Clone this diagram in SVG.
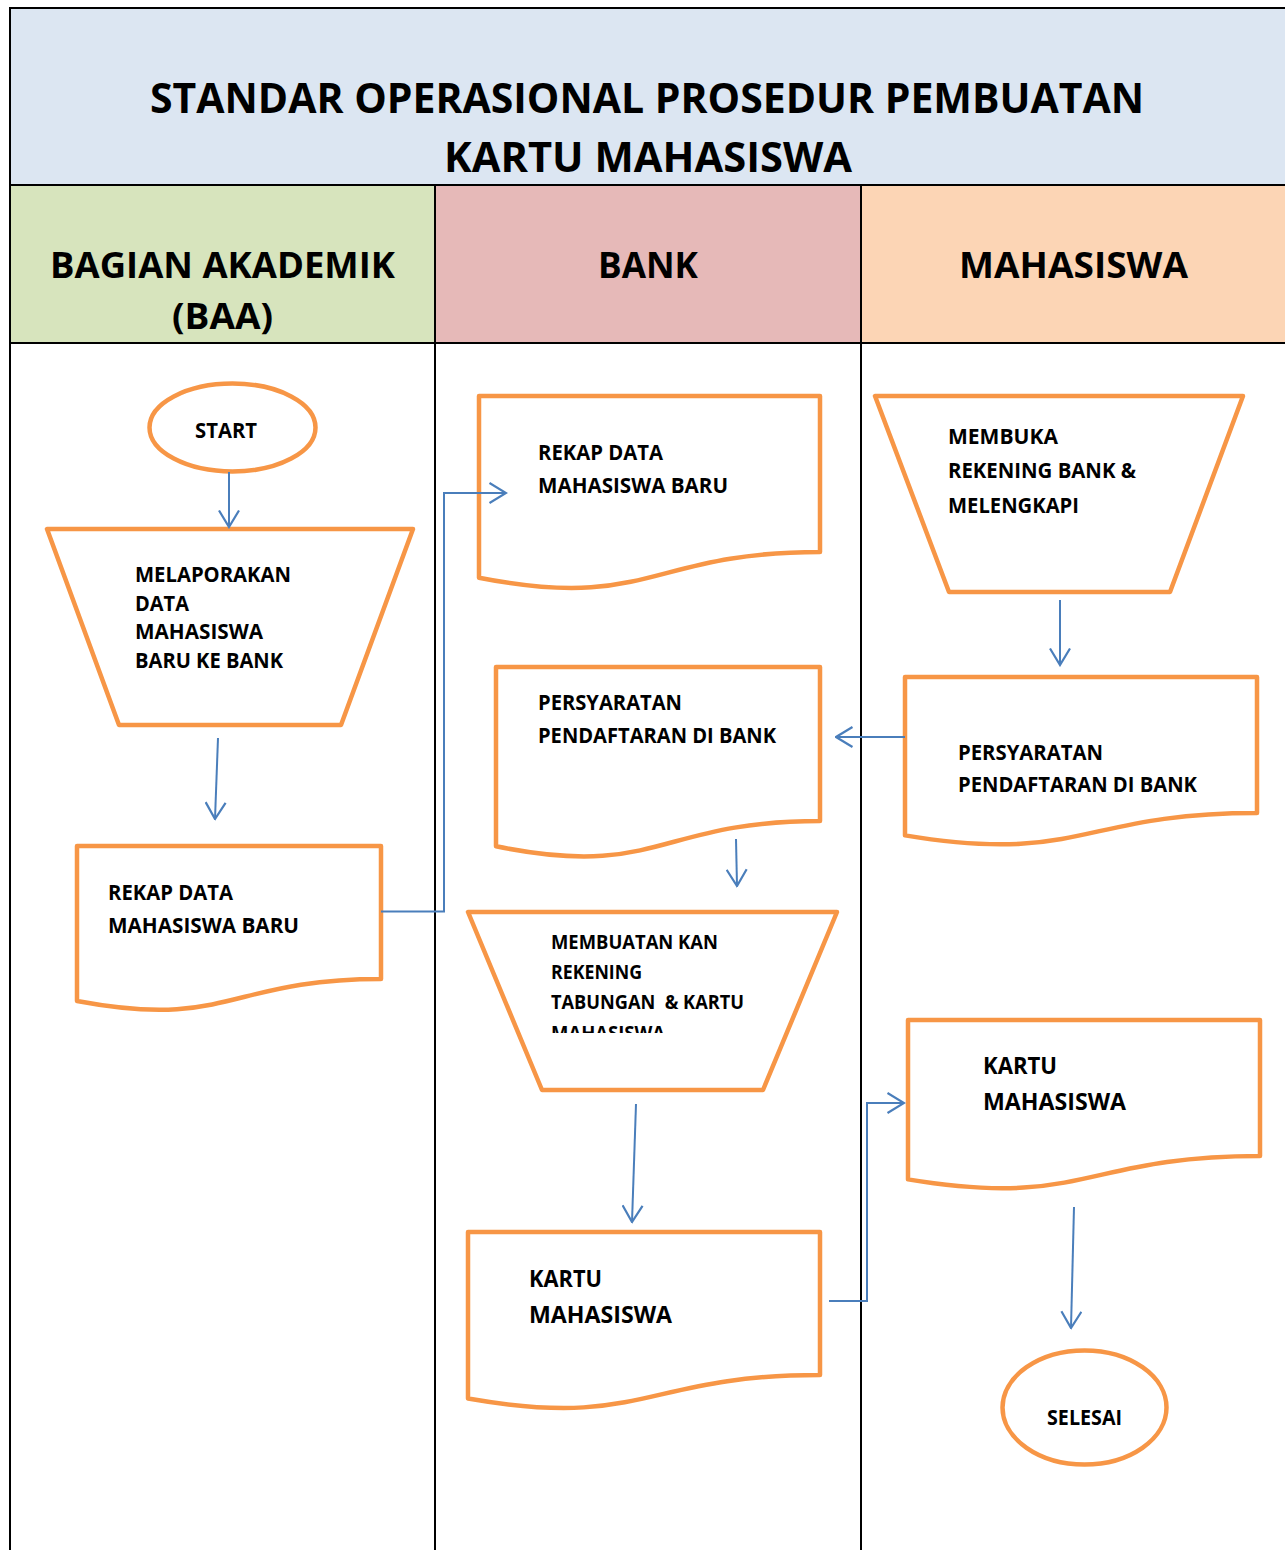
<svg xmlns="http://www.w3.org/2000/svg" width="1285" height="1550" viewBox="0 0 1285 1550">
<style>
.t{font-family:"Open Sans",Lato,"Liberation Sans",sans-serif;font-weight:bold;fill:#000;}
.sh{fill:#fff;stroke:#F79646;stroke-width:4.5;stroke-linejoin:round;}
.cn{fill:none;stroke:#4A7EBB;stroke-width:2;}
.ln{stroke:#000;stroke-width:2;fill:none;}
</style>
<defs>
<marker id="ah" viewBox="0 0 19 22" refX="17.5" refY="11" markerWidth="19" markerHeight="22" markerUnits="userSpaceOnUse" orient="auto">
<path d="M1,1 L17.5,11 L1,21" fill="none" stroke="#4A7EBB" stroke-width="2.2"/>
</marker>
<clipPath id="clipM"><rect x="540" y="1000" width="250" height="33"/></clipPath>
</defs>
<rect x="0" y="0" width="1285" height="1550" fill="#fff"/>
<g id="frame">
<rect x="10" y="8" width="1290" height="177" fill="#DCE6F2"/>
<rect x="10" y="185" width="425" height="158" fill="#D7E4BD"/>
<rect x="435" y="185" width="426" height="158" fill="#E6B9B8"/>
<rect x="861" y="185" width="430" height="158" fill="#FCD5B5"/>
<path class="ln" d="M10,1552 V8 H1290 M10,185 H1290 M10,343 H1290 M435,185 V1552 M861,185 V1552"/>
<text class="t" x="150" y="113" font-size="42" textLength="994" lengthAdjust="spacingAndGlyphs">STANDAR OPERASIONAL PROSEDUR PEMBUATAN</text>
<text class="t" x="444" y="172" font-size="42" textLength="408" lengthAdjust="spacingAndGlyphs">KARTU MAHASISWA</text>
<text class="t" x="50" y="278" font-size="36" textLength="345" lengthAdjust="spacingAndGlyphs">BAGIAN AKADEMIK</text>
<text class="t" x="172" y="329" font-size="36" textLength="101" lengthAdjust="spacingAndGlyphs">(BAA)</text>
<text class="t" x="598" y="278" font-size="36" textLength="100" lengthAdjust="spacingAndGlyphs">BANK</text>
<text class="t" x="959" y="278" font-size="36" textLength="229" lengthAdjust="spacingAndGlyphs">MAHASISWA</text>
</g>
<g id="start">
<ellipse class="sh" cx="232.5" cy="427.5" rx="83" ry="44"/>
<text class="t" x="195" y="438" font-size="21" textLength="62" lengthAdjust="spacingAndGlyphs">START</text>
</g>
<g id="melaporkan">
<path class="sh" d="M47,529 H413 L341,725 H119 Z"/>
<text class="t" x="135" y="582" font-size="20.5" textLength="156" lengthAdjust="spacingAndGlyphs">MELAPORAKAN</text>
<text class="t" x="135" y="611" font-size="20.5" textLength="54" lengthAdjust="spacingAndGlyphs">DATA</text>
<text class="t" x="135" y="639" font-size="20.5" textLength="128" lengthAdjust="spacingAndGlyphs">MAHASISWA</text>
<text class="t" x="135" y="668" font-size="20.5" textLength="148" lengthAdjust="spacingAndGlyphs">BARU KE BANK</text>
</g>
<g id="rekap-baa">
<path class="sh" d="M77,846 H381 V979 C229,979 229,1029.6 77,1001 Z"/>
<text class="t" x="108" y="900" font-size="21" textLength="125" lengthAdjust="spacingAndGlyphs">REKAP DATA</text>
<text class="t" x="108" y="933" font-size="21" textLength="191" lengthAdjust="spacingAndGlyphs">MAHASISWA BARU</text>
</g>
<g id="rekap-bank">
<path class="sh" d="M479,396 H820 V552 C649.5,552 649.5,611.3 479,577.7 Z"/>
<text class="t" x="538" y="460" font-size="21" textLength="125" lengthAdjust="spacingAndGlyphs">REKAP DATA</text>
<text class="t" x="538" y="493" font-size="21" textLength="190" lengthAdjust="spacingAndGlyphs">MAHASISWA BARU</text>
</g>
<g id="persyaratan-bank">
<path class="sh" d="M496,667 H820 V821 C658,821 658,879.5 496,846.3 Z"/>
<text class="t" x="538" y="710" font-size="21" textLength="144" lengthAdjust="spacingAndGlyphs">PERSYARATAN</text>
<text class="t" x="538" y="743" font-size="21" textLength="238" lengthAdjust="spacingAndGlyphs">PENDAFTARAN DI BANK</text>
</g>
<g id="membuatan">
<path class="sh" d="M468,912 H837 L763,1090 H542 Z"/>
<text class="t" x="551" y="949" font-size="19" textLength="167" lengthAdjust="spacingAndGlyphs">MEMBUATAN KAN</text>
<text class="t" x="551" y="979" font-size="19" textLength="91" lengthAdjust="spacingAndGlyphs">REKENING</text>
<text class="t" x="551" y="1009" font-size="19" textLength="193" lengthAdjust="spacingAndGlyphs" xml:space="preserve">TABUNGAN  &amp; KARTU</text>
<text class="t" x="551" y="1040" font-size="19" textLength="114" lengthAdjust="spacingAndGlyphs" clip-path="url(#clipM)">MAHASISWA</text>
</g>
<g id="kartu-bank">
<path class="sh" d="M468,1232 H820 V1375 C644,1375 644,1429.4 468,1398.5 Z"/>
<text class="t" x="529" y="1287" font-size="23" textLength="73" lengthAdjust="spacingAndGlyphs">KARTU</text>
<text class="t" x="529" y="1323" font-size="23" textLength="143" lengthAdjust="spacingAndGlyphs">MAHASISWA</text>
</g>
<g id="membuka">
<path class="sh" d="M875,396 H1243 L1170,592 H949 Z"/>
<text class="t" x="948" y="444" font-size="21" textLength="110" lengthAdjust="spacingAndGlyphs">MEMBUKA</text>
<text class="t" x="948" y="478" font-size="21" textLength="188" lengthAdjust="spacingAndGlyphs">REKENING BANK &amp;</text>
<text class="t" x="948" y="513" font-size="21" textLength="131" lengthAdjust="spacingAndGlyphs">MELENGKAPI</text>
</g>
<g id="persyaratan-mhs">
<path class="sh" d="M905,677 H1257 V813 C1081,813 1081,864.7 905,835.4 Z"/>
<text class="t" x="958" y="760" font-size="21" textLength="145" lengthAdjust="spacingAndGlyphs">PERSYARATAN</text>
<text class="t" x="958" y="792" font-size="21" textLength="239" lengthAdjust="spacingAndGlyphs">PENDAFTARAN DI BANK</text>
</g>
<g id="kartu-mhs">
<path class="sh" d="M908,1020 H1260 V1156 C1084,1156 1084,1208.7 908,1179.4 Z"/>
<text class="t" x="983" y="1074" font-size="23" textLength="74" lengthAdjust="spacingAndGlyphs">KARTU</text>
<text class="t" x="983" y="1110" font-size="23" textLength="143" lengthAdjust="spacingAndGlyphs">MAHASISWA</text>
</g>
<g id="selesai">
<ellipse class="sh" cx="1084.5" cy="1407.5" rx="82" ry="57"/>
<text class="t" x="1047" y="1425" font-size="21" textLength="75" lengthAdjust="spacingAndGlyphs">SELESAI</text>
</g>
<g id="connectors">
<path class="cn" marker-end="url(#ah)" d="M229,472 L229,527"/>
<path class="cn" marker-end="url(#ah)" d="M218,738 L215,819"/>
<path class="cn" marker-end="url(#ah)" d="M381,911.5 H444 V493 H506"/>
<path class="cn" marker-end="url(#ah)" d="M905,737 H836"/>
<path class="cn" marker-end="url(#ah)" d="M1060,600 V665"/>
<path class="cn" marker-end="url(#ah)" d="M736,839 L737,886"/>
<path class="cn" marker-end="url(#ah)" d="M636,1104 L632,1222"/>
<path class="cn" marker-end="url(#ah)" d="M829,1301 H867 V1103 H904"/>
<path class="cn" marker-end="url(#ah)" d="M1074,1207 L1071,1328"/>
</g>
</svg>
